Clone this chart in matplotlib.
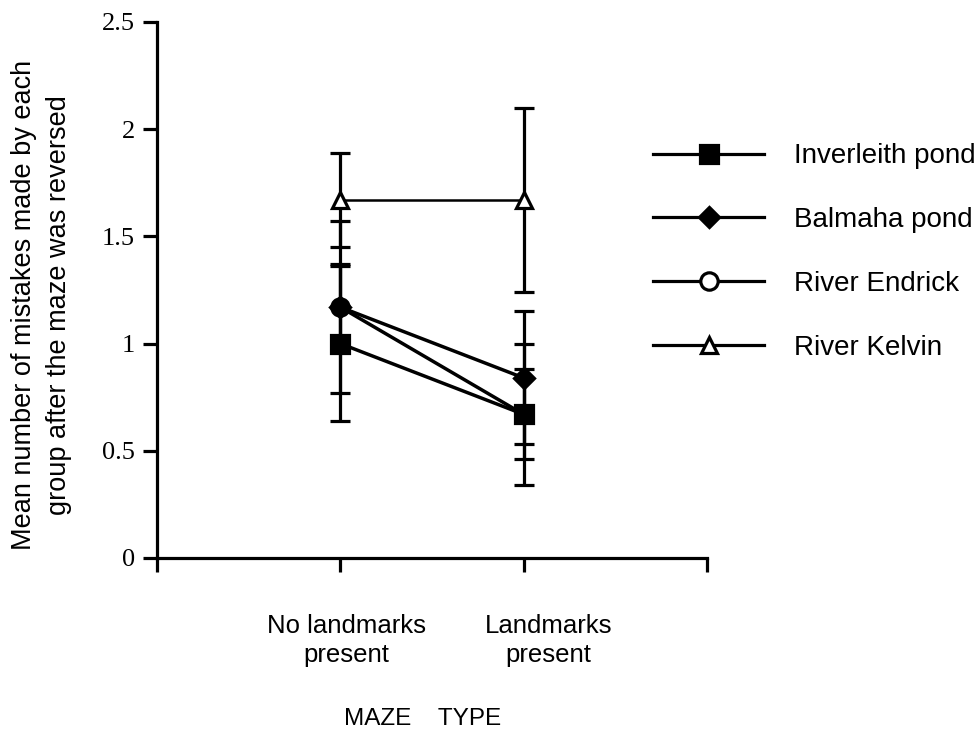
import numpy as np
import matplotlib.pyplot as plt
from matplotlib.lines import Line2D
from matplotlib.transforms import ScaledTranslation

# datos: media de errores por grupo y su barra de error
tipos = ["No landmarks\npresent", "Landmarks\npresent"]
grupos = ["Inverleith pond", "Balmaha pond", "River Endrick", "River Kelvin"]
inverleith = [1.00, 0.67]
balmaha = [1.17, 0.84]
endrick = [1.17, 0.67]
kelvin = [1.67, 1.67]
err_inverleith = [0.36, 0.33]
err_balmaha = [0.40, 0.31]
err_endrick = [0.20, 0.21]
err_kelvin = [0.22, 0.43]

xs = np.array([1, 2])

plt.rcParams['font.family'] = ['Liberation Sans', 'DejaVu Sans']
fig = plt.figure(figsize=(9.78, 7.3), dpi=100)
ax = fig.add_axes([157/978, 1-558/730, (707-157)/978, (558-22)/730])

# estilo de cada serie: marcador, relleno en la grafica, relleno en la leyenda, grosor
estilos = [
    (endrick, err_endrick, 'o', 'black', 'white', 2.5),
    (balmaha, err_balmaha, 'D', 'black', 'black', 2.5),
    (inverleith, err_inverleith, 's', 'black', 'black', 2.5),
    (kelvin, err_kelvin, '^', 'white', 'white', 1.8),
]
tam = {'o': 12.5, 'D': 10.5, 's': 12.5, '^': 11}

for vals, errs, m, cara, _, lw in estilos:
    ax.errorbar(xs, vals, yerr=errs, color='black', lw=lw, marker=m,
                markersize=tam[m], markerfacecolor=cara, markeredgecolor='black',
                markeredgewidth=2.3, capsize=7.5, capthick=2.3, elinewidth=2.3,
                zorder=3)

ax.set_xlim(0, 3)
ax.set_ylim(0, 2.5)
ax.spines['top'].set_visible(False)
ax.spines['right'].set_visible(False)
ax.spines['left'].set_linewidth(2.3)
ax.spines['bottom'].set_linewidth(2.3)

ax.set_yticks([0, 0.5, 1, 1.5, 2, 2.5])
ax.set_yticklabels(['0', '0.5', '1', '1.5', '2', '2.5'], family='Liberation Serif', fontsize=19)
ax.set_xticks([0, 1, 2, 3])
ax.set_xticklabels(['', tipos[0], tipos[1], ''], fontsize=18.5, linespacing=1.3)
ax.tick_params(axis='both', direction='out', length=10, width=2.3)
ax.tick_params(axis='x', pad=30)
ax.tick_params(axis='y', pad=6)

# desplazar un poco las etiquetas de categoria hacia la derecha
desp = [0, 6, 25, 0]
for lab, d in zip(ax.get_xticklabels(), desp):
    lab.set_transform(lab.get_transform() + ScaledTranslation(d/100, 0, fig.dpi_scale_trans))

fig.text(42/978, 1-305/730, "Mean number of mistakes made by each\ngroup after the maze was reversed",
         fontsize=19.5, linespacing=1.45, rotation=90, ha='center', va='center',
         multialignment='center')
fig.text(423/978, 1-719/730, "MAZE    TYPE", fontsize=17.5, ha='center', va='center')

# leyenda con circulo abierto para River Endrick
orden = [2, 1, 0, 3]
handles = []
for i in orden:
    vals, errs, m, cara, cara_ley, lw = estilos[i]
    handles.append(Line2D([], [], color='black', lw=2.3, marker=m, markersize=tam[m],
                          markerfacecolor=cara_ley, markeredgecolor='black',
                          markeredgewidth=2.3))
fig.legend(handles, grupos, loc='center left', bbox_to_anchor=(628/978, 1-252/730),
           frameon=False, fontsize=20, handlelength=4.0, handletextpad=1.08,
           labelspacing=1.36)

fig.savefig('out.png', dpi=100)
